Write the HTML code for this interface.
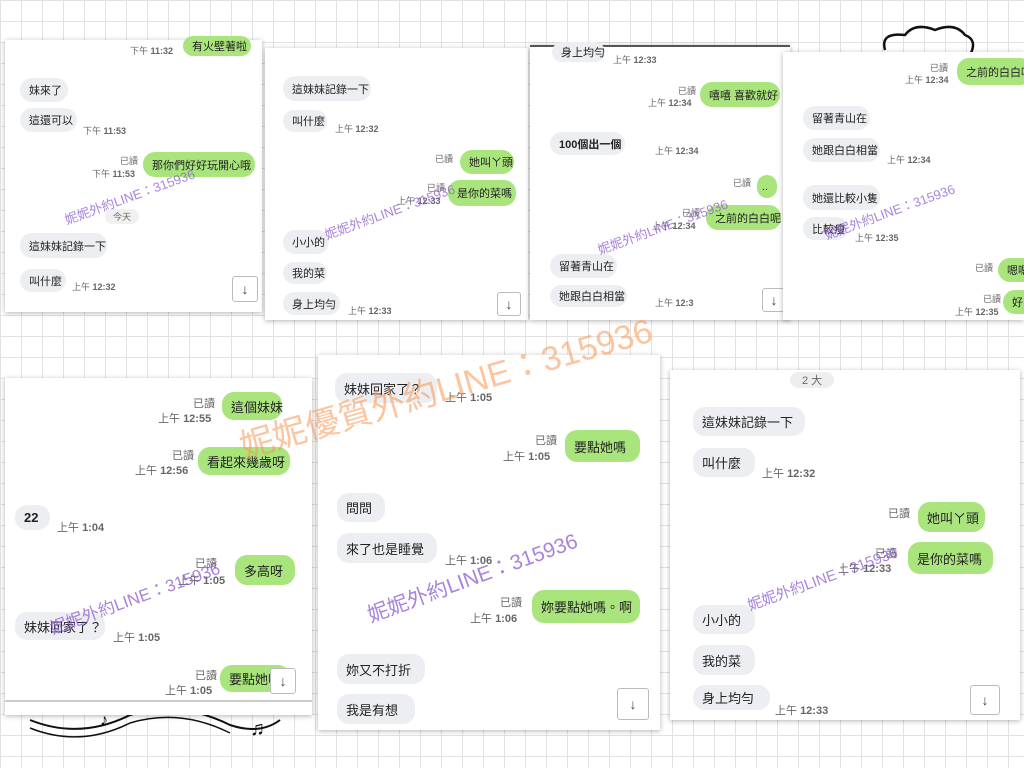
<!DOCTYPE html>
<html><head><meta charset="utf-8"><style>
body{margin:0;width:1024px;height:768px;overflow:hidden;position:relative;background:#fff;
background-image:linear-gradient(#e2e2e2 1px,transparent 1px),linear-gradient(90deg,#e2e2e2 1px,transparent 1px);background-size:21px 21px;
font-family:"Liberation Sans","Noto Sans CJK TC",sans-serif;color:#222}
.p{position:absolute;background:#fff;box-shadow:0 1px 5px rgba(0,0,0,.3);overflow:hidden}
.b{position:absolute;border-radius:12px;background:#eceef1;font-size:11px;display:flex;align-items:center;padding:0 9px;box-sizing:border-box;white-space:nowrap}
.g{background:#a9e57c}
.t{position:absolute;font-size:9px;color:#666;white-space:nowrap}
.t b{font-weight:bold}
.L .b{font-size:13px}.L .t{font-size:11px}
.ar{position:absolute;border:1px solid #bbb;background:#fff;border-radius:3px;font-size:14px;display:flex;align-items:center;justify-content:center;color:#444}
.w{position:absolute;color:rgba(140,90,210,.75);font-size:15px;transform:rotate(-20deg);transform-origin:left center;white-space:nowrap}
</style></head><body>
<svg style="position:absolute;left:0;top:0" width="1024" height="768">
<path d="M885 50 Q880 32 905 35 Q915 22 935 30 Q955 22 965 35 Q978 40 970 55" fill="none" stroke="#111" stroke-width="2.5"/>
<path d="M30 720 Q80 740 130 715 Q180 700 230 725 Q260 735 280 720" fill="none" stroke="#111" stroke-width="2"/>
<path d="M30 728 Q80 748 130 723 Q180 708 230 733" fill="none" stroke="#111" stroke-width="1.5"/>
<text x="250" y="735" font-size="20" fill="#111">♫</text><text x="100" y="725" font-size="16" fill="#111">♪</text>
</svg>

<div class="p" style="left:5px;top:40px;width:257px;height:272px"></div>
<div class="b g" style="left:183px;top:36px;width:68px;height:20px">有火壁著啦</div>
<div class="t" style="left:130px;top:44px">下午 <b>11:32</b></div>
<div class="b" style="left:20px;top:78px;width:48px;height:24px">妹來了</div>
<div class="b" style="left:20px;top:108px;width:57px;height:24px">這還可以</div>
<div class="t" style="left:83px;top:124px">下午 <b>11:53</b></div>
<div class="t" style="left:120px;top:154px">已讀</div>
<div class="t" style="left:92px;top:167px">下午 <b>11:53</b></div>
<div class="b g" style="left:143px;top:152px;width:112px;height:25px">那你們好好玩開心哦</div>
<div class="t" style="left:105px;top:209px;background:#f0f0f0;padding:1px 8px;border-radius:8px">今天</div>
<div class="b" style="left:20px;top:233px;width:87px;height:25px">這妹妹記錄一下</div>
<div class="b" style="left:20px;top:269px;width:46px;height:23px">叫什麼</div>
<div class="t" style="left:72px;top:280px">上午 <b>12:32</b></div>
<div class="ar" style="left:232px;top:276px;width:24px;height:24px">↓</div>

<div class="p" style="left:265px;top:48px;width:263px;height:272px"></div>
<div class="b" style="left:283px;top:76px;width:88px;height:25px">這妹妹記錄一下</div>
<div class="b" style="left:283px;top:110px;width:44px;height:22px">叫什麼</div>
<div class="t" style="left:335px;top:122px">上午 <b>12:32</b></div>
<div class="t" style="left:435px;top:152px">已讀</div>
<div class="b g" style="left:460px;top:150px;width:54px;height:24px">她叫ㄚ頭</div>
<div class="t" style="left:427px;top:181px">已讀</div>
<div class="t" style="left:397px;top:194px">上午 <b>12:33</b></div>
<div class="b g" style="left:448px;top:180px;width:68px;height:26px">是你的菜嗎</div>
<div class="b" style="left:283px;top:230px;width:46px;height:24px">小小的</div>
<div class="b" style="left:283px;top:262px;width:44px;height:22px">我的菜</div>
<div class="b" style="left:283px;top:292px;width:57px;height:23px">身上均勻</div>
<div class="t" style="left:348px;top:304px">上午 <b>12:33</b></div>
<div class="ar" style="left:497px;top:292px;width:22px;height:22px">↓</div>

<div class="p" style="left:530px;top:45px;width:260px;height:273px;border-top:2px solid #555"></div>
<div class="b" style="left:552px;top:42px;width:53px;height:20px">身上均勻</div>
<div class="t" style="left:613px;top:53px">上午 <b>12:33</b></div>
<div class="t" style="left:678px;top:84px">已讀</div>
<div class="t" style="left:648px;top:96px">上午 <b>12:34</b></div>
<div class="b g" style="left:700px;top:82px;width:80px;height:25px">嘻嘻 喜歡就好</div>
<div class="b" style="left:550px;top:132px;width:75px;height:23px;font-weight:bold">100個出一個</div>
<div class="t" style="left:655px;top:144px">上午 <b>12:34</b></div>
<div class="t" style="left:733px;top:176px">已讀</div>
<div class="b g" style="left:757px;top:175px;width:20px;height:23px;padding:0 5px">..</div>
<div class="t" style="left:682px;top:206px">已讀</div>
<div class="t" style="left:652px;top:219px">上午 <b>12:34</b></div>
<div class="b g" style="left:706px;top:205px;width:75px;height:25px">之前的白白呢</div>
<div class="b" style="left:550px;top:254px;width:67px;height:24px">留著青山在</div>
<div class="b" style="left:550px;top:285px;width:77px;height:22px">她跟白白相當</div>
<div class="t" style="left:655px;top:296px">上午 <b>12:3</b></div>
<div class="ar" style="left:762px;top:288px;width:22px;height:22px">↓</div>

<div class="p" style="left:783px;top:52px;width:241px;height:268px"></div>
<div class="t" style="left:930px;top:61px">已讀</div>
<div class="t" style="left:905px;top:73px">上午 <b>12:34</b></div>
<div class="b g" style="left:957px;top:58px;width:75px;height:27px">之前的白白呢</div>
<div class="b" style="left:803px;top:106px;width:67px;height:24px">留著青山在</div>
<div class="b" style="left:803px;top:138px;width:77px;height:24px">她跟白白相當</div>
<div class="t" style="left:887px;top:153px">上午 <b>12:34</b></div>
<div class="b" style="left:803px;top:185px;width:77px;height:25px">她還比較小隻</div>
<div class="b" style="left:803px;top:217px;width:45px;height:23px">比較瘦</div>
<div class="t" style="left:855px;top:231px">上午 <b>12:35</b></div>
<div class="t" style="left:975px;top:261px">已讀</div>
<div class="b g" style="left:998px;top:258px;width:40px;height:24px">嗯嗯</div>
<div class="t" style="left:983px;top:292px">已讀</div>
<div class="t" style="left:955px;top:305px">上午 <b>12:35</b></div>
<div class="b g" style="left:1003px;top:290px;width:40px;height:24px">好</div>

<div class="L">
<div class="p" style="left:5px;top:378px;width:307px;height:337px"></div>
<div style="position:absolute;left:5px;top:700px;width:307px;height:2px;background:#ccc"></div>
<div class="t" style="left:193px;top:395px">已讀</div>
<div class="t" style="left:158px;top:410px">上午 <b>12:55</b></div>
<div class="b g" style="left:222px;top:392px;width:60px;height:28px">這個妹妹</div>
<div class="t" style="left:172px;top:447px">已讀</div>
<div class="t" style="left:135px;top:462px">上午 <b>12:56</b></div>
<div class="b g" style="left:198px;top:447px;width:92px;height:28px">看起來幾歲呀</div>
<div class="b" style="left:15px;top:505px;width:35px;height:25px;font-weight:bold">22</div>
<div class="t" style="left:57px;top:519px">上午 <b>1:04</b></div>
<div class="t" style="left:195px;top:555px">已讀</div>
<div class="t" style="left:178px;top:572px">上午 <b>1:05</b></div>
<div class="b g" style="left:235px;top:555px;width:60px;height:30px">多高呀</div>
<div class="b" style="left:15px;top:612px;width:90px;height:28px">妹妹回家了？</div>
<div class="t" style="left:113px;top:629px">上午 <b>1:05</b></div>
<div class="t" style="left:195px;top:667px">已讀</div>
<div class="t" style="left:165px;top:682px">上午 <b>1:05</b></div>
<div class="b g" style="left:220px;top:665px;width:70px;height:27px">要點她嗎</div>
<div class="ar" style="left:270px;top:668px;width:24px;height:24px">↓</div>

<div class="p" style="left:318px;top:355px;width:342px;height:375px"></div>
<div class="b" style="left:335px;top:373px;width:102px;height:30px">妹妹回家了？</div>
<div class="t" style="left:445px;top:389px">上午 <b>1:05</b></div>
<div class="t" style="left:535px;top:432px">已讀</div>
<div class="t" style="left:503px;top:448px">上午 <b>1:05</b></div>
<div class="b g" style="left:565px;top:430px;width:75px;height:32px">要點她嗎</div>
<div class="b" style="left:337px;top:493px;width:48px;height:29px">問問</div>
<div class="b" style="left:337px;top:533px;width:100px;height:30px">來了也是睡覺</div>
<div class="t" style="left:445px;top:552px">上午 <b>1:06</b></div>
<div class="t" style="left:500px;top:594px">已讀</div>
<div class="t" style="left:470px;top:610px">上午 <b>1:06</b></div>
<div class="b g" style="left:532px;top:590px;width:108px;height:33px">妳要點她嗎。啊</div>
<div class="b" style="left:337px;top:654px;width:88px;height:30px">妳又不打折</div>
<div class="b" style="left:337px;top:694px;width:78px;height:30px">我是有想</div>
<div class="ar" style="left:617px;top:688px;width:30px;height:30px">↓</div>

<div class="p" style="left:670px;top:370px;width:350px;height:350px"></div>
<div class="t" style="left:790px;top:372px;background:#eee;padding:0 12px;border-radius:8px">2 大</div>
<div class="b" style="left:693px;top:407px;width:112px;height:29px">這妹妹記錄一下</div>
<div class="b" style="left:693px;top:448px;width:62px;height:29px">叫什麼</div>
<div class="t" style="left:762px;top:465px">上午 <b>12:32</b></div>
<div class="t" style="left:888px;top:505px">已讀</div>
<div class="b g" style="left:918px;top:502px;width:67px;height:30px">她叫ㄚ頭</div>
<div class="t" style="left:875px;top:545px">已讀</div>
<div class="t" style="left:838px;top:560px">上午 <b>12:33</b></div>
<div class="b g" style="left:908px;top:542px;width:85px;height:32px">是你的菜嗎</div>
<div class="b" style="left:693px;top:605px;width:62px;height:29px">小小的</div>
<div class="b" style="left:693px;top:645px;width:62px;height:30px">我的菜</div>
<div class="b" style="left:693px;top:685px;width:77px;height:25px">身上均勻</div>
<div class="t" style="left:775px;top:702px">上午 <b>12:33</b></div>
<div class="ar" style="left:970px;top:685px;width:28px;height:28px">↓</div>
</div>

<div class="w" style="left:65px;top:210px;font-size:13px">妮妮外約LINE：315936</div>
<div class="w" style="left:325px;top:225px;font-size:13px">妮妮外約LINE：315936</div>
<div class="w" style="left:598px;top:240px;font-size:13px">妮妮外約LINE：315936</div>
<div class="w" style="left:825px;top:225px;font-size:13px">妮妮外約LINE：315936</div>
<div class="w" style="left:50px;top:615px;font-size:17px">妮妮外約LINE：315936</div>
<div class="w" style="left:368px;top:600px;font-size:21px">妮妮外約LINE：315936</div>
<div class="w" style="left:748px;top:595px;font-size:15px">妮妮外約LINE：315936</div>
<div class="w" style="left:240px;top:420px;font-size:34px;color:rgba(250,150,80,.55);transform:rotate(-16deg)">妮妮優質外約LINE：315936</div>
</body></html>
